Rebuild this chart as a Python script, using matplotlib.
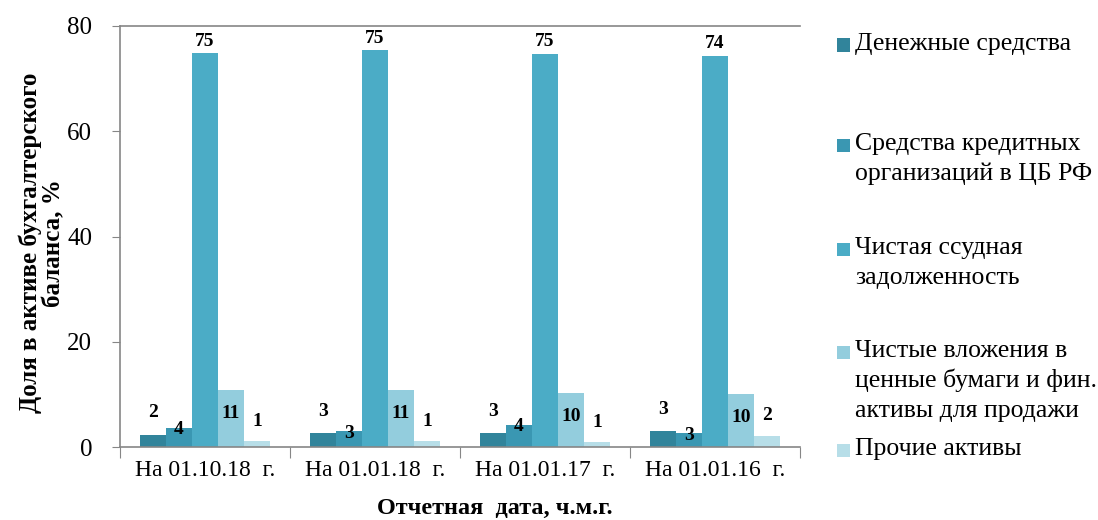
import matplotlib
matplotlib.use("Agg")
import matplotlib.pyplot as plt
import numpy as np
from matplotlib.patches import Rectangle

categories = ["На 01.10.18  г.", "На 01.01.18  г.", "На 01.01.17  г.", "На 01.01.16  г."]
series_names = [
    "Денежные средства",
    "Средства кредитных\nорганизаций в ЦБ РФ",
    "Чистая ссудная\nзадолженность",
    "Чистые вложения в\nценные бумаги и фин.\nактивы для продажи",
    "Прочие активы",
]
cash = [2.3, 2.6, 2.6, 3.0]
cb_funds = [3.7, 3.0, 4.2, 2.6]
loans = [74.8, 75.4, 74.7, 74.3]
securities = [10.9, 10.9, 10.3, 10.1]
other = [1.1, 1.1, 0.9, 2.1]
series_values = [cash, cb_funds, loans, securities, other]
colors = ["#31849B", "#3A97B2", "#4BACC6", "#93CDDD", "#B7DEE8"]
yticks = [0, 20, 40, 60, 80]

plt.rcParams['font.family'] = ['Liberation Serif', 'DejaVu Serif']

fig = plt.figure(figsize=(10.98, 5.2), dpi=100)
ax = fig.add_axes([120/1098, (520-447)/520, (800-120)/1098, (447-26)/520])

x = np.arange(len(categories))
w = 26/170
label_offsets = [22, -2, 12, -24, 20]  # pixel offsets of data labels
for i, (vals, c) in enumerate(zip(series_values, colors)):
    xs = x + (i - 2) * w
    ax.bar(xs, vals, width=w, color=c, edgecolor='none', zorder=2)
    for xv, v in zip(xs, vals):
        ax.annotate(f"{int(round(v))}", (xv, v), xytext=(0, label_offsets[i] * 0.72),
                    textcoords='offset points', ha='center', va='center',
                    fontsize=14, fontweight='bold', color='black')

ax.set_xlim(-0.5, len(categories) - 0.5)
ax.set_ylim(0, 80)
ax.set_yticks(yticks)
ax.set_yticklabels([str(t) for t in yticks], fontsize=18)
ax.set_xticks(np.arange(len(categories) + 1) - 0.5)
ax.set_xticklabels([])
ax.set_xticks(x, minor=True)
ax.set_xticklabels(categories, minor=True, fontsize=17)
ax.tick_params(axis='x', which='major', length=8, color='#868686', direction='out')
ax.tick_params(axis='x', which='minor', length=0, pad=9)
ax.tick_params(axis='y', length=6, color='#868686', pad=14)

ax.spines['right'].set_visible(False)
for s in ['left', 'bottom', 'top']:
    ax.spines[s].set_color('#868686')
    ax.spines[s].set_linewidth(1.2)

fig.text(42/1098, 1 - 243/520, "Доля в активе бухгалтерского\nбаланса, %", rotation=90,
         ha='center', va='center', fontsize=18, fontweight='bold', linespacing=1.0)
fig.text(495/1098, 1 - 508/520, "Отчетная  дата, ч.м.г.", ha='center', va='center',
         fontsize=17.5, fontweight='bold')

# legend drawn manually, one text per line
legend_first_lines = [43, 143, 247, 350, 448]
line_h = 30
for name, c, ty in zip(series_names, colors, legend_first_lines):
    fig.patches.append(Rectangle((837/1098, 1 - (ty + 8.5)/520), 13/1098, 13/520,
                                 transform=fig.transFigure, facecolor=c, edgecolor='none'))
    for k, line in enumerate(name.split("\n")):
        fig.text(855/1098, 1 - (ty + 7 + k * line_h)/520, line, ha='left', va='baseline',
                 fontsize=18.5)

fig.savefig("out.png", dpi=100)
